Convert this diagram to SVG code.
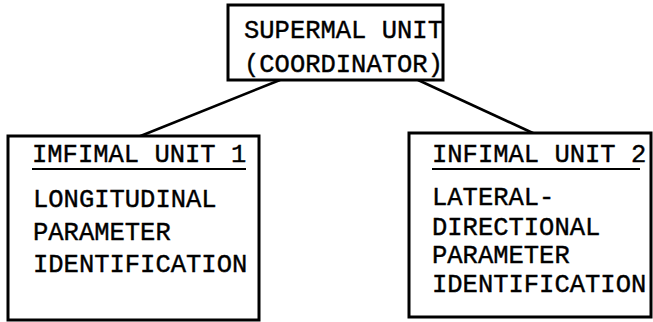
<svg xmlns="http://www.w3.org/2000/svg" width="653" height="322" viewBox="0 0 653 322">
<style>
.box{fill:#fff;stroke:#000;stroke-width:3}
.t{font-family:"Liberation Mono","Courier New",monospace;font-size:25.5px;fill:#000;stroke:#000;stroke-width:0.4}
.ul{stroke:#000;stroke-width:2}
.con{stroke:#000;stroke-width:2.6;fill:none}
</style>
<g id="connectors">
<line class="con" x1="280" y1="80" x2="138" y2="137"/>
<line class="con" x1="418" y1="80" x2="535" y2="134"/>
</g>
<g id="supermal">
<rect class="box" x="228" y="5" width="215" height="75"/>
<text class="t" x="244" y="38">SUPERMAL UNIT</text>
<text class="t" x="244" y="72">(COORDINATOR)</text>
</g>
<g id="infimal1">
<rect class="box" x="8" y="136" width="251" height="184"/>
<text class="t" x="32" y="162">IMFIMAL UNIT 1</text>
<line class="ul" x1="32" y1="169" x2="246" y2="169"/>
<text class="t" x="33" y="207">LONGITUDINAL</text>
<text class="t" x="33" y="240">PARAMETER</text>
<text class="t" x="33" y="272">IDENTIFICATION</text>
</g>
<g id="infimal2">
<rect class="box" x="409" y="133" width="242" height="184"/>
<text class="t" x="432" y="162">INFIMAL UNIT 2</text>
<line class="ul" x1="432" y1="169" x2="640" y2="169"/>
<text class="t" x="432" y="205">LATERAL-</text>
<text class="t" x="432" y="235">DIRECTIONAL</text>
<text class="t" x="432" y="263">PARAMETER</text>
<text class="t" x="432" y="292">IDENTIFICATION</text>
</g>
</svg>
